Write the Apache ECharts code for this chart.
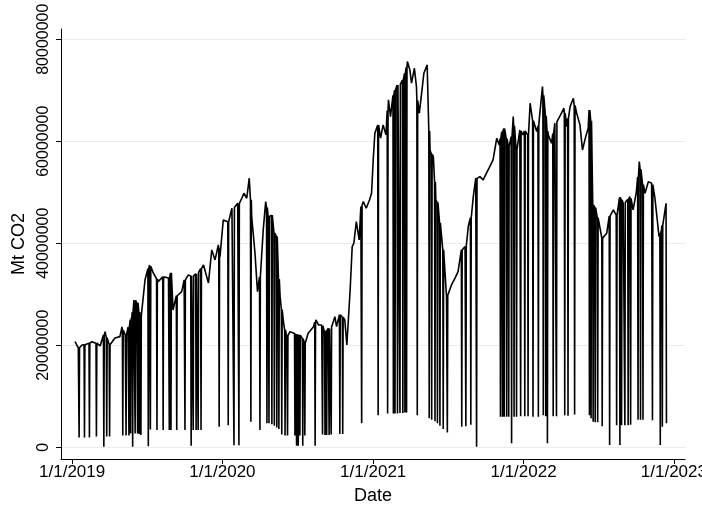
<!DOCTYPE html>
<html>
<head>
<meta charset="utf-8">
<script src="https://cdn.jsdelivr.net/npm/echarts@6/dist/echarts.min.js"></script>
<style>
  html, body { margin: 0; padding: 0; background: #fff; }
  #chart { width: 702px; height: 515px; }
</style>
</head>
<body>
<div id="chart"></div>
<script>
// Regular readings of daily emissions, [date, Mt CO2]
const level2019 = [
  ['2019-01-08', 20710000], ['2019-01-16', 19470000], ['2019-01-25', 20060000], ['2019-02-06', 20250000],
  ['2019-02-18', 20710000], ['2019-03-04', 20450000], ['2019-03-10', 19860000], ['2019-03-22', 22670000],
  ['2019-04-05', 20060000], ['2019-04-15', 21430000], ['2019-04-27', 21690000], ['2019-05-02', 23590000],
  ['2019-05-10', 22020000], ['2019-05-17', 23590000], ['2019-05-26', 25610000], ['2019-05-31', 28880000],
  ['2019-06-07', 28290000], ['2019-06-15', 25350000], ['2019-06-27', 32800000], ['2019-07-08', 35750000],
  ['2019-07-17', 34180000], ['2019-07-29', 32470000], ['2019-08-14', 33450000], ['2019-08-23', 33200000],
  ['2019-08-31', 34430000], ['2019-09-03', 26920000], ['2019-09-14', 29860000], ['2019-09-24', 30510000],
  ['2019-09-30', 32800000], ['2019-10-10', 33780000], ['2019-10-20', 33590000], ['2019-11-06', 34430000],
  ['2019-11-16', 35750000], ['2019-11-28', 32220000], ['2019-12-06', 38690000], ['2019-12-14', 36730000],
  ['2019-12-22', 39670000], ['2019-12-26', 37370000]
];
const level2020 = [
  ['2020-01-03', 44570000], ['2020-01-07', 44900000], ['2020-01-17', 43980000], ['2020-01-24', 46860000],
  ['2020-02-01', 47180000], ['2020-02-07', 47840000], ['2020-02-17', 48820000], ['2020-02-22', 49800000],
  ['2020-02-29', 48820000], ['2020-03-06', 52750000], ['2020-03-12', 45220000], ['2020-03-20', 38040000],
  ['2020-03-26', 30510000], ['2020-04-09', 42610000], ['2020-04-15', 48160000], ['2020-04-21', 45220000],
  ['2020-05-20', 29530000], ['2020-05-28', 24630000], ['2020-06-05', 21690000], ['2020-06-13', 22670000],
  ['2020-07-27', 22350000], ['2020-08-09', 23650000], ['2020-08-15', 24960000], ['2020-08-21', 23980000],
  ['2020-08-29', 23980000], ['2020-09-14', 23330000], ['2020-09-30', 25610000], ['2020-10-04', 23650000],
  ['2020-10-16', 26270000], ['2020-10-24', 24960000], ['2020-10-29', 20060000], ['2020-11-06', 30840000],
  ['2020-11-11', 39330000], ['2020-11-15', 40000000], ['2020-11-21', 44240000], ['2020-11-28', 40650000],
  ['2020-12-02', 47180000], ['2020-12-08', 48160000], ['2020-12-15', 46860000], ['2020-12-23', 48490000],
  ['2020-12-28', 49800000]
];
const level2021 = [
  ['2021-01-01', 56330000], ['2021-01-05', 61570000], ['2021-01-19', 60590000], ['2021-01-25', 63200000],
  ['2021-02-01', 61240000], ['2021-02-07', 68100000], ['2021-02-12', 64820000], ['2021-03-03', 71370000],
  ['2021-03-11', 71040000], ['2021-03-25', 75610000], ['2021-03-31', 73980000], ['2021-04-04', 71370000],
  ['2021-04-11', 74310000], ['2021-04-16', 70710000], ['2021-04-23', 65490000], ['2021-04-29', 69730000],
  ['2021-05-04', 73330000], ['2021-05-12', 74960000], ['2021-05-19', 58290000], ['2021-05-27', 56980000],
  ['2021-06-02', 48490000], ['2021-06-08', 47180000], ['2021-06-28', 29470000], ['2021-07-10', 31820000],
  ['2021-07-19', 33200000], ['2021-07-26', 34430000], ['2021-08-12', 39330000], ['2021-08-20', 43390000],
  ['2021-08-28', 45220000], ['2021-09-01', 49140000], ['2021-09-07', 52750000], ['2021-09-17', 53060000],
  ['2021-09-25', 52410000], ['2021-10-03', 53730000], ['2021-10-11', 55020000], ['2021-10-19', 56330000],
  ['2021-10-28', 60590000], ['2021-11-03', 59270000], ['2021-11-09', 61880000], ['2021-11-17', 62550000],
  ['2021-11-25', 58940000], ['2021-12-07', 64820000], ['2021-12-23', 62220000], ['2021-12-31', 61240000]
];
const level2022 = [
  ['2022-01-07', 62220000], ['2022-01-17', 67450000], ['2022-02-02', 61880000], ['2022-02-08', 64180000],
  ['2022-02-16', 70710000], ['2022-02-22', 66140000], ['2022-03-02', 61240000], ['2022-03-10', 59610000],
  ['2022-03-18', 63530000], ['2022-03-26', 64180000], ['2022-04-03', 65490000], ['2022-04-09', 66470000],
  ['2022-04-16', 62860000], ['2022-04-24', 66780000], ['2022-05-02', 68430000], ['2022-05-10', 65490000],
  ['2022-05-18', 63200000], ['2022-05-24', 58290000], ['2022-06-01', 60900000], ['2022-06-07', 62550000],
  ['2022-06-27', 46860000], ['2022-07-05', 43260000], ['2022-07-13', 40980000], ['2022-07-22', 41960000],
  ['2022-08-07', 46530000], ['2022-08-31', 47840000], ['2022-09-08', 48160000], ['2022-09-16', 49140000],
  ['2022-09-24', 46530000], ['2022-10-02', 50120000], ['2022-10-09', 56000000], ['2022-10-23', 49800000],
  ['2022-10-31', 52080000], ['2022-11-08', 51760000], ['2022-11-16', 48820000], ['2022-11-26', 41290000],
  ['2022-12-02', 42610000], ['2022-12-13', 47840000], ['2022-12-14', 4700000]
];

// One-day dips: [date, level on the days around it, value on the day]
const dips2019 = [
  ['2019-01-18', 19500000, 1900000], ['2019-01-31', 20100000, 1900000], ['2019-02-12', 20400000, 1900000],
  ['2019-03-01', 20400000, 2100000], ['2019-03-19', 22000000, 100000], ['2019-03-26', 21500000, 2100000],
  ['2019-04-02', 20100000, 2100000], ['2019-05-04', 23000000, 2300000], ['2019-05-12', 22000000, 2300000],
  ['2019-05-19', 23600000, 2300000], ['2019-05-23', 25000000, 2700000], ['2019-05-28', 26500000, 100000],
  ['2019-06-03', 28800000, 2700000], ['2019-06-09', 28300000, 2700000], ['2019-06-13', 26500000, 2600000],
  ['2019-06-17', 25800000, 2400000], ['2019-07-05', 35000000, 200000], ['2019-07-10', 35500000, 3500000],
  ['2019-07-26', 33000000, 3400000], ['2019-08-10', 33400000, 3400000], ['2019-08-25', 33400000, 3400000],
  ['2019-08-29', 34200000, 3400000], ['2019-09-12', 29700000, 3400000], ['2019-10-02', 32800000, 3400000],
  ['2019-10-17', 33600000, 300000], ['2019-10-22', 33600000, 3400000], ['2019-10-29', 34000000, 3400000],
  ['2019-11-03', 34300000, 3400000], ['2019-11-10', 35000000, 3400000], ['2019-12-24', 39000000, 4000000]
];
const dips2020 = [
  ['2020-01-15', 44200000, 4300000], ['2020-01-29', 47000000, 400000], ['2020-02-10', 47800000, 400000],
  ['2020-03-10', 48500000, 5000000], ['2020-04-01', 33400000, 3400000], ['2020-04-18', 47000000, 4700000],
  ['2020-04-23', 45200000, 4700000], ['2020-04-30', 45500000, 4500000], ['2020-05-06', 42000000, 4200000],
  ['2020-05-12', 41300000, 3900000], ['2020-05-17', 33000000, 3600000], ['2020-05-24', 27000000, 2500000],
  ['2020-06-01', 23000000, 2300000], ['2020-06-07', 21900000, 2300000], ['2020-06-25', 22300000, 2300000],
  ['2020-06-29', 22200000, 300000], ['2020-07-03', 22100000, 300000], ['2020-07-07', 22000000, 2300000],
  ['2020-07-14', 21300000, 300000], ['2020-07-19', 20400000, 2300000], ['2020-08-13', 24500000, 300000],
  ['2020-08-31', 23800000, 2500000], ['2020-09-06', 22400000, 2400000], ['2020-09-10', 22900000, 2400000],
  ['2020-09-16', 23300000, 2400000], ['2020-09-21', 23600000, 2500000], ['2020-10-12', 26000000, 2600000],
  ['2020-10-19', 25500000, 2600000], ['2020-12-04', 47500000, 4700000]
];
const dips2021 = [
  ['2021-01-13', 63200000, 6300000], ['2021-02-05', 66000000, 6600000], ['2021-02-19', 69000000, 6600000],
  ['2021-02-23', 70000000, 6600000], ['2021-03-01', 71000000, 6600000], ['2021-03-07', 71200000, 6700000],
  ['2021-03-14', 72000000, 6700000], ['2021-03-19', 73300000, 6800000], ['2021-03-23', 74500000, 6800000],
  ['2021-04-18', 68000000, 6300000], ['2021-05-17', 62000000, 5700000], ['2021-05-23', 57500000, 5400000],
  ['2021-05-31', 52000000, 5100000], ['2021-06-06', 48000000, 4700000], ['2021-06-12', 44000000, 4200000],
  ['2021-06-20', 38700000, 3600000], ['2021-06-30', 29800000, 2900000], ['2021-08-04', 38700000, 4000000],
  ['2021-08-14', 39500000, 4100000], ['2021-08-26', 45000000, 4400000], ['2021-09-09', 52700000, 100000],
  ['2021-11-06', 60500000, 6000000], ['2021-11-11', 62000000, 6000000], ['2021-11-15', 62500000, 6000000],
  ['2021-11-21', 60500000, 6000000], ['2021-11-26', 59000000, 6000000], ['2021-12-03', 60900000, 800000],
  ['2021-12-09', 63000000, 6000000], ['2021-12-15', 58300000, 6000000], ['2021-12-25', 62000000, 6100000]
];
const dips2022 = [
  ['2022-01-04', 62000000, 6100000], ['2022-01-12', 61200000, 6100000], ['2022-01-24', 64000000, 6000000],
  ['2022-02-06', 63000000, 6000000], ['2022-02-18', 69000000, 6300000], ['2022-02-24', 65000000, 6100000],
  ['2022-02-28', 62000000, 800000], ['2022-03-14', 61500000, 6100000], ['2022-03-22', 63800000, 6100000],
  ['2022-04-11', 65500000, 6300000], ['2022-04-19', 64500000, 6200000], ['2022-05-05', 67000000, 6400000],
  ['2022-06-10', 66100000, 6300000], ['2022-06-14', 64000000, 5700000], ['2022-06-19', 47500000, 5000000],
  ['2022-06-24', 47000000, 4900000], ['2022-06-30', 45000000, 4900000], ['2022-07-11', 41000000, 4100000],
  ['2022-07-29', 45300000, 450000], ['2022-08-15', 45500000, 4300000], ['2022-08-23', 49000000, 450000],
  ['2022-08-27', 48500000, 4300000], ['2022-09-04', 48000000, 4300000], ['2022-09-12', 48600000, 4300000],
  ['2022-09-18', 48800000, 4400000], ['2022-10-06', 53000000, 5400000], ['2022-10-12', 54500000, 5400000],
  ['2022-10-18', 51500000, 5400000], ['2022-11-10', 51500000, 5300000], ['2022-11-29', 42000000, 450000],
  ['2022-12-04', 43500000, 4000000]
];

// Axis ticks
const xTickDates = ['2019-01-01', '2020-01-01', '2021-01-01', '2022-01-01', '2023-01-01'];
const yTicks = [0, 20000000, 40000000, 60000000, 80000000];

const DAY = 86400000;
function toTime(s) {
  const p = s.split('-').map(Number);
  return Date.UTC(p[0], p[1] - 1, p[2]);
}
function formatDate(v) {
  const d = new Date(v);
  return (d.getUTCMonth() + 1) + '/' + d.getUTCDate() + '/' + d.getUTCFullYear();
}

// Assemble the daily line in date order
const points = [];
[level2019, level2020, level2021, level2022].forEach(arr =>
  arr.forEach(([d, v]) => points.push([toTime(d), v])));
[dips2019, dips2020, dips2021, dips2022].forEach(arr =>
  arr.forEach(([d, top, low]) => {
    const t = toTime(d);
    points.push([t - DAY, top], [t, low], [t + DAY, top]);
  }));
points.sort((a, b) => a[0] - b[0]);

const xTicks = xTickDates.map(toTime);
const FONT = 'Liberation Sans, Arial, Helvetica, sans-serif';

const chart = echarts.init(document.getElementById('chart'), null, { renderer: 'canvas' });
chart.setOption({
  animation: false,
  backgroundColor: '#ffffff',
  grid: { left: 61, right: 17, top: 29, bottom: 56, containLabel: false, outerBoundsMode: 'none' },
  xAxis: {
    type: 'value',
    min: toTime('2018-12-05'),
    max: toTime('2023-01-28'),
    name: 'Date',
    nameLocation: 'middle',
    nameGap: 28,
    nameTextStyle: { color: '#000', fontSize: 18, fontFamily: FONT },
    axisLine: { show: true, onZero: false, lineStyle: { color: '#000', width: 1 } },
    axisTick: { show: true, length: 5, customValues: xTicks, lineStyle: { color: '#000', width: 1 } },
    axisLabel: {
      customValues: xTicks,
      margin: 5,
      color: '#000',
      fontSize: 17,
      fontFamily: FONT,
      formatter: v => formatDate(v)
    },
    splitLine: { show: false }
  },
  yAxis: {
    type: 'value',
    min: -2300000,
    max: 82000000,
    name: 'Mt CO2',
    nameLocation: 'middle',
    nameRotate: 90,
    nameGap: 30,
    nameTextStyle: { color: '#000', fontSize: 18, fontFamily: FONT },
    axisLine: { show: true, onZero: false, lineStyle: { color: '#000', width: 1 } },
    axisTick: { show: true, length: 5, customValues: yTicks, lineStyle: { color: '#000', width: 1 } },
    axisLabel: {
      customValues: yTicks,
      rotate: 90,
      margin: 9,
      color: '#000',
      fontSize: 16,
      fontFamily: FONT,
      formatter: v => String(v)
    },
    splitLine: { show: true, lineStyle: { color: '#e6eded', width: 1 } }
  },
  series: [{
    type: 'line',
    data: points,
    showSymbol: false,
    symbol: 'none',
    sampling: false,
    lineStyle: { color: '#000', width: 1.6 },
    silent: true
  }]
});
</script>
</body>
</html>
